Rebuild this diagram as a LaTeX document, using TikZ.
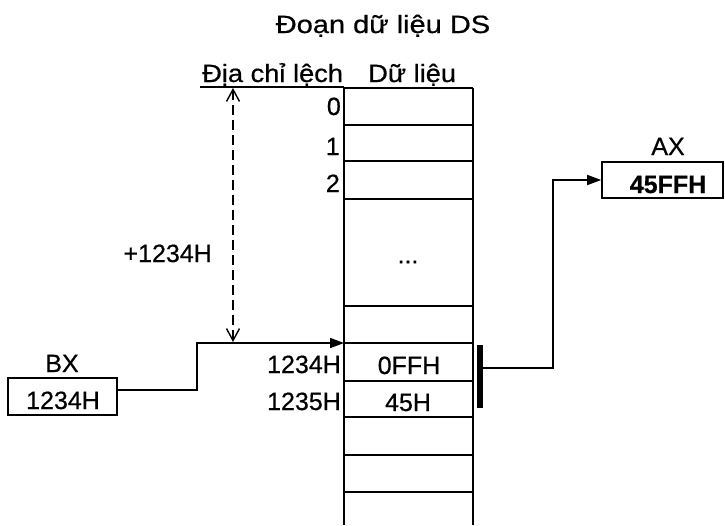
\documentclass[tikz,border=0pt]{standalone}
\usepackage{fontspec}
\setmainfont[FakeBold=0.6]{Liberation Sans}
\newfontfamily\titlefont[FakeStretch=1.16,FakeBold=0.6]{Liberation Sans}
\newfontfamily\headfont[FakeStretch=1.09,FakeBold=0.6]{Liberation Sans}
\usetikzlibrary{arrows.meta}
\begin{document}
\begin{tikzpicture}[x=1pt,y=-1pt,
  lbl/.style={font=\fontsize{25}{30}\selectfont, inner sep=0pt},
  col/.style={line width=2pt},
  rowline/.style={line width=1.6pt},
  conn/.style={line width=1.6pt},
  reg/.style={draw, line width=1.6pt, minimum width=109pt, minimum height=37pt, inner sep=0pt, font=\fontsize{25}{30}\selectfont},
  dashline/.style={line width=1.5pt, dash pattern=on 10pt off 5pt}
]
\useasboundingbox (0,0) rectangle (725,525);

% title and headers
\node[lbl, anchor=base, font=\fontsize{25}{30}\titlefont] (title) at (383,33) {Đoạn dữ liệu DS};
\node[lbl, anchor=base west, font=\fontsize{25}{30}\headfont] (hoff) at (202,82) {Địa chỉ lệch};
\node[lbl, anchor=base west, font=\fontsize{25}{30}\headfont] (hdata) at (368,82) {Dữ liệu};

% memory column
\draw[col] (344,88) -- (344,525);
\draw[col] (473,88) -- (473,525);
\draw[rowline] (200,87) -- (344,87);
\draw[line width=1.2pt] (344,88) -- (473,88);
\foreach \yy in {125,161,199,306,343,381,417,455,492}
  \draw[rowline] (344,\yy) -- (473,\yy);

% offsets
\node[lbl, anchor=base east] (o0) at (341,115) {0};
\node[lbl, anchor=base east] (o1) at (340,155) {1};
\node[lbl, anchor=base east] (o2) at (340,192) {2};
\node[lbl, anchor=base east] (o1234) at (341,373) {1234H};
\node[lbl, anchor=base east] (o1235) at (341,410) {1235H};

% data
\node[lbl] (dots) at (408,262) {...};
\node[lbl, anchor=base] (d0) at (409,374) {0FFH};
\node[lbl, anchor=base] (d1) at (408,411) {45H};

% thick bar
\node[fill=black, minimum width=6pt, minimum height=63pt, inner sep=0pt] (bar) at (480,376.5) {};

% registers
\node[lbl, anchor=base] (bxlbl) at (62,372) {BX};
\node[reg] (bx) at (62.5,396.5) {};
\node[lbl, anchor=base] (bxval) at (63,409) {1234H};

\node[lbl, anchor=base] (axlbl) at (668,155) {AX};
\node[reg, minimum width=121pt, minimum height=36pt] (ax) at (662.5,180) {};
\node[lbl, anchor=base, font=\fontsize{25}{30}\selectfont\bfseries] (axval) at (668,193) {45FFH};

% offset dimension
\coordinate (dtop) at (233,88);
\coordinate (dbot) at (233,342);
\draw[dashline, {Straight Barb[length=12pt,width=13pt,line width=1.4pt]}-{Straight Barb[length=12pt,width=13pt,line width=1.4pt]}] (dtop) -- (dbot);
\node[lbl, anchor=base east] (plus) at (212,262) {+1234H};

% connectors
\coordinate (c1234) at (344,343);
\draw[conn, -{Triangle[length=14pt,width=10pt]}] (bx.east |- 0,390) -| (197,343) -- (c1234);
\draw[conn, -{Triangle[length=14pt,width=10pt]}] (bar.east |- 0,368) -| (553,180) -- (ax.west);
\end{tikzpicture}
\end{document}
